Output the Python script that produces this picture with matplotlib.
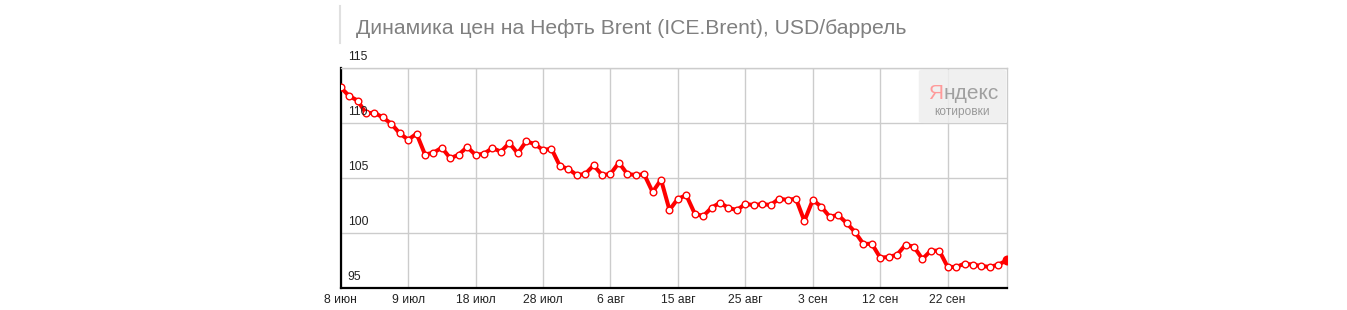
import matplotlib
matplotlib.use("Agg")
import matplotlib.pyplot as plt
import matplotlib.transforms as mtransforms
from matplotlib import font_manager
from matplotlib.lines import Line2D
from matplotlib.patches import FancyBboxPatch

# Brent close prices, one value per trading day
prices = [
    113.27, 112.48, 112.07, 110.91, 110.96, 110.53, 109.96, 109.09, 108.51, 109.05,
    107.16, 107.33, 107.78, 106.82, 107.15, 107.85, 107.12, 107.24, 107.75, 107.42,
    108.21, 107.27, 108.36, 108.12, 107.57, 107.69, 106.12, 105.85, 105.30, 105.39,
    106.18, 105.30, 105.39, 106.42, 105.39, 105.30, 105.36, 103.75, 104.87, 102.12,
    103.15, 103.45, 101.78, 101.57, 102.33, 102.78, 102.30, 102.12, 102.66, 102.57,
    102.66, 102.57, 103.15, 103.03, 103.15, 101.12, 103.03, 102.42, 101.51, 101.66,
    100.94, 100.12, 99.03, 99.05, 97.78, 97.85, 98.05, 98.96, 98.78, 97.66,
    98.42, 98.42, 96.94, 96.94, 97.24, 97.15, 97.03, 96.94, 97.15, 97.53,
]
xtick_pos = [0, 8, 16, 24, 32, 40, 48, 56, 64, 72]
xtick_labels = ["8 июн", "9 июл", "18 июл", "28 июл", "6 авг", "15 авг",
                "25 авг", "3 сен", "12 сен", "22 сен"]
yticks = [95, 100, 105, 110, 115]
title = "Динамика цен на Нефть Brent (ICE.Brent), USD/баррель"

plt.rcParams["font.family"] = ["Liberation Sans", "DejaVu Sans"]

# narrow face for the Yandex badge, if one is installed
installed = {f.name for f in font_manager.fontManager.ttflist}
if "Liberation Sans Narrow" in installed:
    logo_family, logo_size = "Liberation Sans Narrow", 17
else:
    logo_family, logo_size = "Liberation Sans", 15

W, H = 1347, 310
fig = plt.figure(figsize=(W / 100, H / 100), dpi=100)
ax = fig.add_axes([340.7 / W, 1 - 288.3 / H, 666 / W, 220 / H])

xs = list(range(len(prices)))
ax.plot(xs, prices, color="#ff0000", lw=2.9, zorder=3,
        marker="o", ms=4.8, mfc="white", mec="#ff0000", mew=1.0)
# last point is drawn filled and gets cut by the right edge
ax.plot(xs[-1:], prices[-1:], "o", color="#ff0000", ms=6.2, zorder=4)

ax.set_xlim(0, len(prices) - 1)
ax.set_ylim(95, 115)
ax.set_xticks(xtick_pos)
ax.set_xticklabels(xtick_labels)
ax.set_yticks(yticks)
ax.set_yticklabels([])
ax.tick_params(axis="both", length=0, labelsize=8.7, labelcolor="#222222")
ax.tick_params(axis="x", pad=4)
ax.grid(color="#cccccc", lw=1.0)
ax.set_axisbelow(True)
for side in ("top", "right"):
    ax.spines[side].set_color("#cccccc")
    ax.spines[side].set_linewidth(1.0)
for side in ("left", "bottom"):
    ax.spines[side].set_color("black")
    ax.spines[side].set_linewidth(1.6)

# y labels sit inside the plot, just above their gridline
trans = mtransforms.offset_copy(ax.get_yaxis_transform(), fig=fig,
                                x=5, y=4, units="points")
for v in yticks:
    ax.text(0, v, str(v), transform=trans, ha="left", va="bottom",
            fontsize=8.7, color="#222222", clip_on=False)

# title and the thin rule beside it
fig.text(356 / W, 1 - 33.5 / H, title, fontsize=15.2, color="#808080",
         ha="left", va="baseline")
fig.add_artist(Line2D([340 / W, 340 / W], [1 - 6 / H, 1 - 43 / H],
                      transform=fig.transFigure, color="#e0e0e0", lw=1.5))

# Yandex badge
badge = FancyBboxPatch((0.868, 0.751), 0.131, 0.243,
                       boxstyle="round,pad=0,rounding_size=0.008",
                       transform=ax.transAxes, fc="#eeeeee", ec="none",
                       alpha=0.85, zorder=2)
ax.add_patch(badge)
t1 = ax.text(0.882, 0.862, "Я", transform=ax.transAxes, fontsize=logo_size,
             color="#ff9a9a", ha="left", va="baseline", zorder=5,
             family=logo_family)
ax.annotate("ндекс", xy=(1, 0), xycoords=t1, fontsize=logo_size,
            color="#a0a0a0", ha="left", va="bottom", zorder=5,
            family=logo_family)
ax.text(0.9335, 0.789, "котировки", transform=ax.transAxes,
        fontsize=8.6, color="#999999", ha="center", va="baseline", zorder=5)

fig.savefig("out.png", dpi=100)
